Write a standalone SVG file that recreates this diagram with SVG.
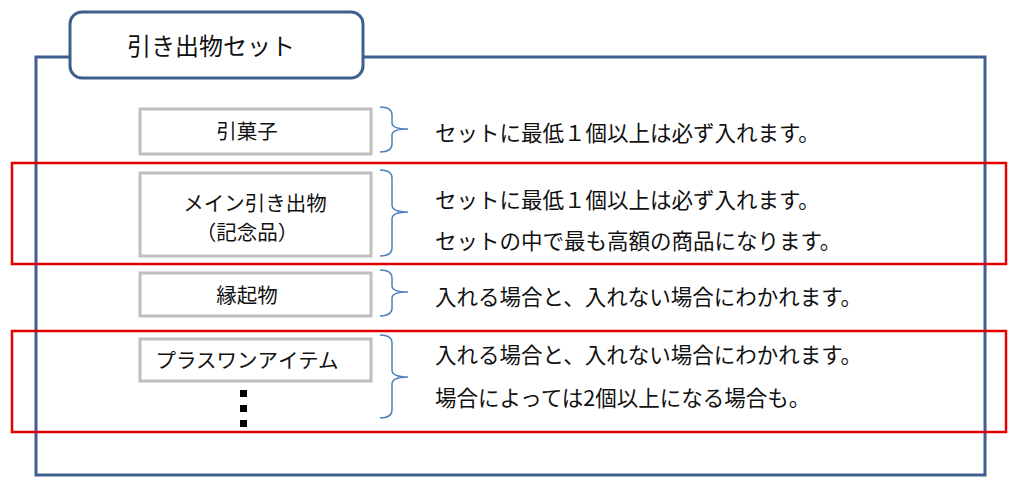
<svg xmlns="http://www.w3.org/2000/svg" width="1024" height="488" viewBox="0 0 1024 488">
<style>
text{font-family:"Noto Sans CJK JP","Liberation Sans",sans-serif;fill:#111;font-size:20.5px}
.t{font-size:21.5px}
.box{fill:#fff;stroke:#bfbfbf;stroke-width:3}
.br{fill:none;stroke:#4f81bd;stroke-width:1.5}
.red{fill:none;stroke:#e00000;stroke-width:2.5}
.c{text-anchor:middle}
</style>
<rect width="1024" height="488" fill="#fff"/>
<rect x="36" y="57" width="949" height="418" fill="none" stroke="#3f5f8f" stroke-width="3"/>
<g id="tab"><rect x="70" y="12" width="293" height="66" rx="12" fill="#fff" stroke="#3f5f8f" stroke-width="3"/>
<text x="127" y="55" style="font-size:24px">引き出物セット</text></g>
<g id="n1"><rect class="box" x="140" y="109" width="231" height="45"/><text class="c" x="247" y="139">引菓子</text></g>
<g id="n2"><rect class="box" x="140" y="173" width="231" height="83"/><text class="c" x="255" y="211">メイン引き出物</text><text class="c" x="247" y="240">（記念品）</text></g>
<g id="n3"><rect class="box" x="140" y="273" width="231" height="43"/><text class="c" x="247" y="303">縁起物</text></g>
<g id="n4"><rect class="box" x="140" y="339" width="231" height="42"/><text class="c" x="247" y="368">プラスワンアイテム</text>
<rect x="240" y="390" width="7" height="7"/><rect x="240" y="405" width="7" height="7"/><rect x="240" y="420" width="7" height="7"/></g>
<g id="connectors">
<path class="br" d="M380 107 Q392 107 392 115 V123 Q392 129 408 129 Q392 129 392 135 V144 Q392 152 380 152"/>
<path class="br" d="M380 170 Q392 170 392 178 V205 Q392 212 408 212 Q392 212 392 219 V248 Q392 256 380 256"/>
<path class="br" d="M380 270 Q392 270 392 278 V286 Q392 292 408 292 Q392 292 392 298 V308 Q392 316 380 316"/>
<path class="br" d="M380 335 Q392 335 392 343 V370 Q392 377 408 377 Q392 377 392 384 V410 Q392 418 380 418"/>
</g>
<g id="texts">
<text class="t" x="435" y="141">セットに最低１個以上は必ず入れます。</text>
<text class="t" x="435" y="208">セットに最低１個以上は必ず入れます。</text>
<text class="t" x="435" y="249">セットの中で最も高額の商品になります。</text>
<text class="t" x="435" y="305">入れる場合と、入れない場合にわかれます。</text>
<text class="t" x="435" y="363">入れる場合と、入れない場合にわかれます。</text>
<text class="t" x="435" y="406">場合によっては2個以上になる場合も。</text>
</g>
<rect class="red" x="12" y="163" width="994" height="101"/>
<rect class="red" x="12" y="331" width="994" height="101"/>
</svg>
